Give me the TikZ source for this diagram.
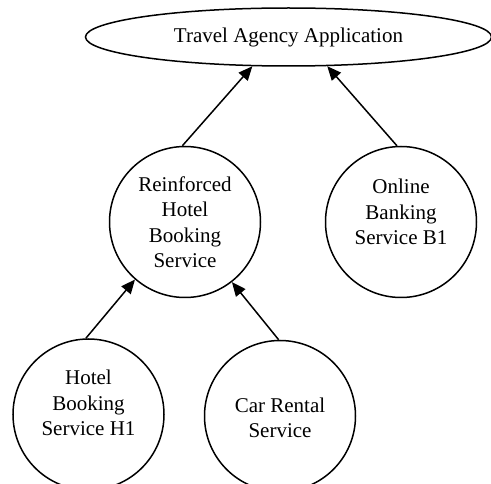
\documentclass[tikz,border=0pt]{standalone}
\usepackage{fontspec}
\setmainfont{Liberation Serif}
\usetikzlibrary{shapes.geometric,arrows.meta}
\begin{document}
\begin{tikzpicture}[x=1pt,y=-1pt,
  svc/.style={circle,draw,line width=1.5pt,minimum size=151pt,inner sep=0pt},
  lbl/.style={align=center,inner sep=0pt,font=\fontsize{21}{25.5}\selectfont},
  app/.style={ellipse,draw,line width=1.5pt,minimum width=406pt,minimum height=58pt,inner sep=0pt,
    font=\fontsize{21}{25.5}\selectfont},
  link/.style={line width=1.5pt,-{Triangle[length=14pt,width=12pt]}}]
\useasboundingbox (0,0) rectangle (491,484);
\node[app] (ta) at (288.5,37) {Travel Agency Application};
\node[svc] (rh) at (185,222) {};
\node[svc] (ob) at (401,222) {};
\node[svc] (h1) at (88.5,414.5) {};
\node[svc] (cr) at (280,416) {};
\node[lbl] (rht) at (185,222) {Reinforced\\Hotel\\Booking\\Service};
\node[lbl] (obt) at (401,212) {Online\\Banking\\Service B1};
\node[lbl] (h1t) at (88.5,403) {Hotel\\Booking\\Service H1};
\node[lbl] (crt) at (280,418) {Car Rental\\Service};
\draw[link] (rh.92) -- (ta.219);
\draw[link] (ob.93) -- (ta.-37);
\draw[link] (h1.92) -- (rh.229);
\draw[link] (cr.91) -- (rh.-52);
\end{tikzpicture}
\end{document}
